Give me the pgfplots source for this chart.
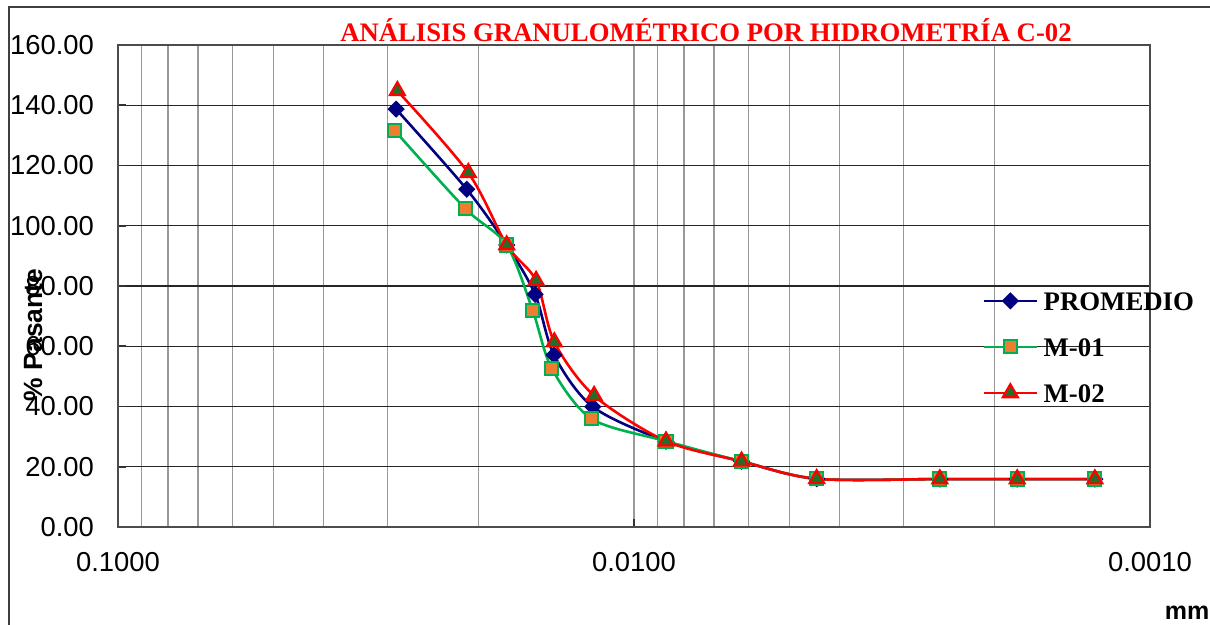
\documentclass[border=0pt]{standalone}
\usepackage{fontspec}
\setmainfont{Liberation Sans}
\newfontfamily\serifbf{Liberation Serif}
\usepackage{pgfplots}
\pgfplotsset{compat=1.18}
\definecolor{navyc}{RGB}{0,0,128}
\definecolor{greenc}{RGB}{0,176,80}
\definecolor{orangec}{RGB}{237,125,49}
\definecolor{redc}{RGB}{255,0,0}
\definecolor{dgreen}{RGB}{36,110,40}
\begin{document}
\begin{tikzpicture}
\useasboundingbox (0,0) rectangle (605pt,312.5pt);
\draw[black!75, line width=1pt] (4.5pt,0) -- (4.5pt,309pt) -- (607pt,309pt);
\begin{axis}[
  at={(59pt,49pt)}, anchor=south west,
  scale only axis, width=516pt, height=241pt,
  xmode=log, x dir=reverse,
  xmin=0.001, xmax=0.1, ymin=0, ymax=160,
  xtick={0.001,0.01,0.1}, xticklabels={0.0010,0.0100,0.1000},
  minor xtick={0.002,0.003,0.004,0.005,0.006,0.007,0.008,0.009,0.02,0.03,0.04,0.05,0.06,0.07,0.08,0.09},
  ytick={0,20,40,60,80,100,120,140,160},
  yticklabel style={/pgf/number format/fixed, /pgf/number format/fixed zerofill, /pgf/number format/precision=2, /pgf/number format/assume math mode=true},
  tick label style={font=\fontsize{13.7}{16}\selectfont},
  xticklabel style={yshift=-9pt},
  yticklabel style={xshift=-8.5pt},
  xmajorgrids, xminorgrids, ymajorgrids,
  major x grid style={black!40, line width=0.6pt},
  minor x grid style={black!40, line width=0.6pt},
  major y grid style={black!85, line width=0.6pt},
  axis line style={black!70, line width=1pt},
  tick style={black!80, line width=0.8pt},
  major tick length=4pt, minor tick length=0pt,
  tick pos=left,
  legend style={at={(rel axis cs:0.832,0.498)}, anchor=north west, draw=none, fill=none,
    font=\serifbf\bfseries\fontsize{13.4}{15}\selectfont,
    nodes={inner sep=0pt, text height=9.5pt, text depth=0pt},
    row sep=13.5pt, column sep=3pt},
  legend cell align=left,
  legend image code/.code={\draw[mark repeat=2,mark phase=2,#1] plot coordinates {(0pt,0pt) (13pt,0pt) (26pt,0pt)};},
]
\addplot[navyc, line width=1.3pt, smooth, mark=square*, mark size=2.4pt,
  mark options={rotate=45, fill=navyc, draw=navyc, solid}] coordinates {
(0.02891,138.7) (0.02110,112.1) (0.01765,93.6) (0.01555,77.2) (0.01429,57.1) (0.01202,39.9)
(0.00867,28.5) (0.00619,21.8) (0.004426,16.0) (0.002555,15.9) (0.001809,15.9) (0.001279,15.9)};
\addlegendentry{PROMEDIO}
\addplot[greenc, line width=1.3pt, smooth, mark=square*, mark size=3.3pt,
  mark options={fill=orangec, draw=greenc, line width=1pt, solid}] coordinates {
(0.02913,131.7) (0.02123,105.7) (0.01765,93.6) (0.01571,71.8) (0.01444,52.7) (0.01208,35.9)
(0.00867,28.5) (0.00619,21.8) (0.004426,16.0) (0.002555,15.9) (0.001809,15.9) (0.001279,15.9)};
\addlegendentry{M-01}
\addplot[redc, line width=1.3pt, smooth, mark=triangle*, mark size=4.3pt,
  mark options={fill=dgreen, draw=redc, line width=1.1pt, solid}] coordinates {
(0.02875,144.8) (0.02095,117.6) (0.01765,93.6) (0.01548,81.8) (0.01427,61.4) (0.01195,43.6)
(0.00867,28.5) (0.00619,21.8) (0.004426,16.0) (0.002555,15.9) (0.001809,15.9) (0.001279,15.9)};
\addlegendentry{M-02}
\end{axis}
\node[text=redc, font=\serifbf\bfseries\fontsize{13.35}{15}\selectfont] at (353pt,297.5pt) {ANÁLISIS GRANULOMÉTRICO POR HIDROMETRÍA C-02};
\node[rotate=90, font=\bfseries\fontsize{13.2}{15}\selectfont] at (16.5pt,145pt) {\% Pasante};
\node[anchor=base, font=\bfseries\fontsize{12.5}{15}\selectfont] at (593.5pt,2.5pt) {mm};
\end{tikzpicture}
\end{document}
